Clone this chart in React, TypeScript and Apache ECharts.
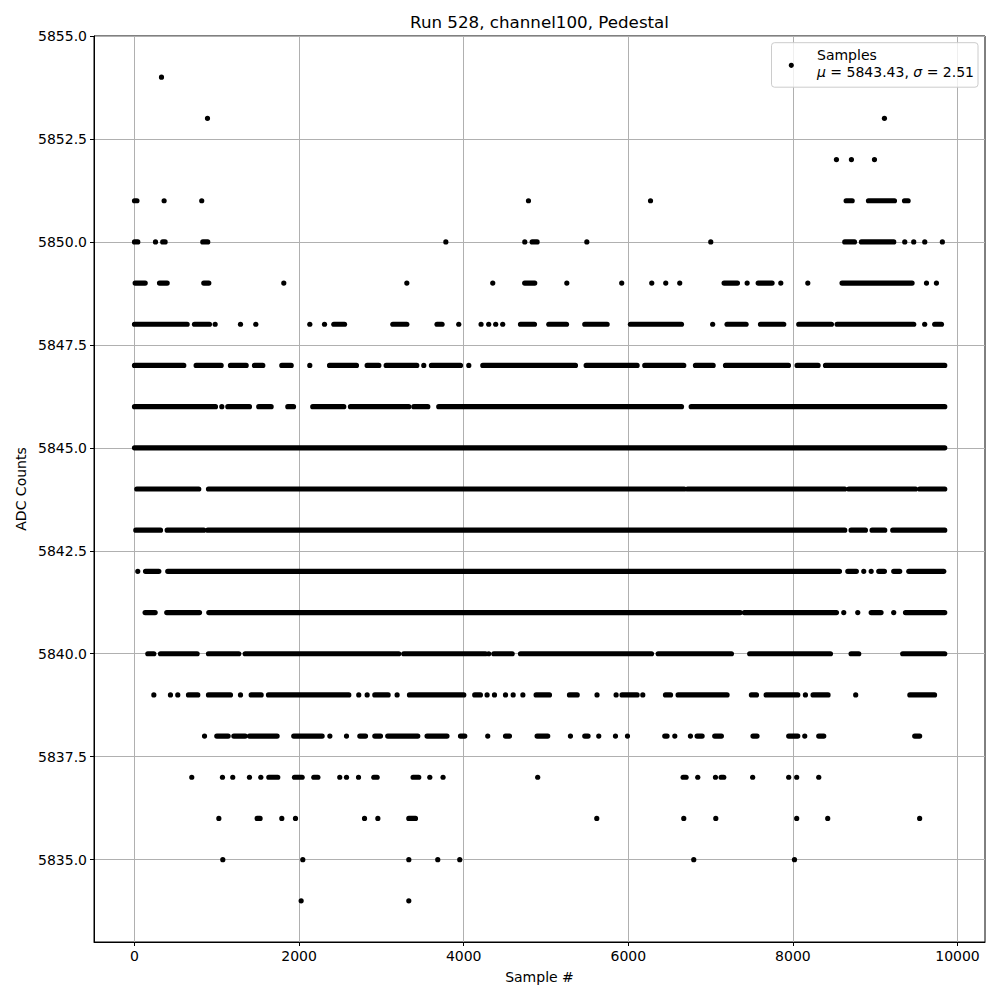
import React, { useEffect, useRef } from "react";
import * as echarts from "echarts";

// ADC levels and the sample-number runs (start, end) observed at each level.
// A single value means an isolated sample.
const L5854 = [[328]];
const L5853 = [[887], [9112]];
const L5852 = [[8529], [8711], [8991]];
const L5851 = [[0, 30], [360], [817], [4787], [6270], [8647, 8720], [8918, 9234], [9356, 9400]];
const L5850 = [[0, 40], [255], [343, 372], [830, 890], [3783], [4742], [4832, 4892], [5496], [7002], [8630, 8748], [8833, 9225], [9359], [9468], [9602], [9816]];
const L5849 = [[8, 130], [304, 397], [842, 903], [1814], [3309], [4353], [4741, 4863], [5253], [5920], [6285], [6455], [6625], [7164, 7326], [7444], [7578, 7747], [7853], [8181], [8597, 9448], [9623], [9744]];
const L5848 = [[0, 640], [729, 911], [980], [1288], [1474], [2130], [2309], [2422, 2552], [3139, 3309], [3676, 3737], [3940], [4211], [4304], [4389], [4474], [4690, 4860], [5034, 5249], [5471, 5743], [6026, 6646], [7025], [7200, 7431], [7606, 7889], [8071, 8468], [8537, 9468], [9601], [9723, 9805]];
const L5847 = [[0, 599], [749, 1053], [1166, 1357], [1458, 1559], [1790, 1904], [2130], [2370, 2697], [2827, 2969], [3058, 3430], [3515], [3608, 3961], [4062], [4232, 5358], [5488, 6107], [6200, 6674], [6816, 7031], [7181, 7946], [8051, 8306], [8396, 9845]];
const L5846 = [[0, 984], [1061], [1134, 1397], [1510, 1660], [1863, 1932], [2166, 2543], [2624, 3333], [3394, 3564], [3697, 6646], [6764, 9845]];
const L5845 = [[0, 9845]];
const L5844 = [[28, 781], [899, 6680], [6720, 8630], [8680, 9490], [9540, 9845]];
const L5843 = [[16, 316], [397, 842], [890, 8630], [8707, 8881], [8962, 9116], [9213, 9845]];
const L5842 = [[40], [134, 296], [404, 8566], [8667, 8771], [8861], [8951], [9043, 9112], [9225, 9298], [9408, 9833]];
const L5841 = [[129, 251], [392, 790], [903, 7360], [7410, 8529], [8618], [8788], [8951, 9071], [9225], [9368, 9845]];
const L5840 = [[162, 235], [316, 761], [899, 1267], [1345, 3211], [3272, 4264], [4304], [4366, 4589], [4690, 6282], [6363, 7253], [7475, 8456], [8707, 8800], [9334, 9845]];
const L5839 = [[235], [437], [526], [656, 769], [899, 1166], [1288], [1418, 1539], [1628, 2604], [2725], [2827], [2920, 3082], [3191], [3341, 4001], [4134, 4203], [4284], [4374], [4508], [4601], [4719], [4880, 5042], [5285, 5379], [5620], [5852], [5924, 6107], [6176], [6452, 6513], [6605, 7200], [7496, 7557], [7675, 8059], [8152], [8245, 8427], [8763], [9421, 9721]];
const L5838 = [[851], [1000, 1138], [1207, 1345], [1397, 1733], [1935, 2280], [2374], [2576], [2738, 2807], [2920, 2989], [3077, 3442], [3555, 3797], [3961, 4013], [4292], [4508, 4556], [4892, 5021], [5297], [5471, 5511], [5641], [5844], [5990], [6443, 6471], [6565], [6755], [6836, 6897], [7050, 7131], [7515, 7564], [7949, 8059], [8144], [8314, 8375], [9480, 9540]];
const L5837 = [[696], [1069], [1194], [1397], [1535], [1632, 1741], [1944, 2037], [2179, 2228], [2494], [2576], [2722], [2908, 2948], [3385, 3454], [3588], [3749], [4899], [6666, 6702], [6844], [7059], [7128, 7160], [7511], [7949], [8046], [8314]];
const L5836 = [[1025], [1490, 1526], [1790], [1956], [2795], [2957], [3333, 3414], [5617], [6674], [7063], [8046], [8423], [9540]];
const L5835 = [[1073], [2045], [3333], [3685], [3952], [6795], [8019]];
const L5834 = [[2025], [3333]];

const LEVELS: [number, number[][]][] = [
  [5854, L5854], [5853, L5853], [5852, L5852], [5851, L5851], [5850, L5850],
  [5849, L5849], [5848, L5848], [5847, L5847], [5846, L5846], [5845, L5845],
  [5844, L5844], [5843, L5843], [5842, L5842], [5841, L5841], [5840, L5840],
  [5839, L5839], [5838, L5838], [5837, L5837], [5836, L5836], [5835, L5835],
  [5834, L5834],
];

const X_TICKS = [0, 2000, 4000, 6000, 8000, 10000];
const Y_TICKS = [5835, 5837.5, 5840, 5842.5, 5845, 5847.5, 5850, 5852.5, 5855];

const TITLE = "Run 528, channel100, Pedestal";
const X_NAME = "Sample #";
const Y_NAME = "ADC Counts";
const LEGEND_NAME = "Samples";
const MU = "5843.43";
const SIGMA = "2.51";

const FONT = "DejaVu Sans";

export default function App() {
  const ref = useRef<HTMLDivElement>(null);
  useEffect(() => {
    if (!ref.current) return;
    const chart = echarts.init(ref.current, null, { renderer: "svg" });
    const data: number[][] = [];
    LEVELS.forEach(([v, segs]) => {
      segs.forEach((s) => {
        const a = s[0];
        const b = s.length > 1 ? s[1] : s[0];
        data.push([a, b, v]);
      });
    });
    const R = 2.6;
    const option: any = {
      animation: false,
      backgroundColor: "#fff",
      textStyle: { fontFamily: FONT },
      grid: {
        left: 94,
        right: 15,
        top: 36,
        bottom: 58,
        show: true,
        borderColor: "#000",
        borderWidth: 1,
        backgroundColor: "transparent",
      },
      xAxis: {
        type: "value",
        min: -492,
        max: 10334,
        axisLine: { show: true, onZero: false, lineStyle: { color: "#000", width: 1 } },
        axisTick: { show: true, length: 4, inside: false, lineStyle: { color: "#000" }, customValues: X_TICKS },
        axisLabel: { customValues: X_TICKS, color: "#000", fontSize: 14, fontFamily: FONT, margin: 7, formatter: (v: number) => String(v) },
        splitLine: { show: true, lineStyle: { color: "#b0b0b0", width: 1 } },
      },
      yAxis: {
        type: "value",
        min: 5833,
        max: 5855,
        axisLine: { show: true, onZero: false, lineStyle: { color: "#000", width: 1 } },
        axisTick: { show: true, length: 4, inside: false, lineStyle: { color: "#000" }, customValues: Y_TICKS },
        axisLabel: { customValues: Y_TICKS, color: "#000", fontSize: 14, fontFamily: FONT, margin: 7, formatter: (v: number) => v.toFixed(1) },
        splitLine: { show: true, lineStyle: { color: "#b0b0b0", width: 1 } },
      },
      series: [
        {
          type: "custom",
          name: LEGEND_NAME,
          encode: { x: [0, 1], y: 2 },
          data,
          renderItem: (params: any, api: any) => {
            const p0 = api.coord([api.value(0), api.value(2)]);
            const p1 = api.coord([api.value(1), api.value(2)]);
            return {
              type: "rect",
              shape: { x: p0[0] - R, y: p0[1] - R, width: p1[0] - p0[0] + 2 * R, height: 2 * R, r: R },
              style: { fill: "#000" },
            };
          },
        },
      ],
      graphic: [
        {
          type: "text",
          x: 539.5,
          y: 22,
          style: { text: TITLE, fontSize: 16.7, fontFamily: FONT, fill: "#000", textAlign: "center", textVerticalAlign: "middle" },
        },
        {
          type: "text",
          x: 539.5,
          y: 977,
          style: { text: X_NAME, fontSize: 14, fontFamily: FONT, fill: "#000", textAlign: "center", textVerticalAlign: "middle" },
        },
        {
          type: "text",
          x: 21,
          y: 489,
          rotation: Math.PI / 2,
          style: { text: Y_NAME, fontSize: 14, fontFamily: FONT, fill: "#000", textAlign: "center", textVerticalAlign: "middle" },
        },
        {
          type: "rect",
          shape: { x: 771.5, y: 42.7, width: 206.5, height: 44.5, r: 3 },
          style: { fill: "rgba(255,255,255,0.8)", stroke: "#cccccc", lineWidth: 1 },
          z: 100,
        },
        {
          type: "circle",
          shape: { cx: 791.3, cy: 65.3, r: R },
          style: { fill: "#000" },
          z: 101,
        },
        {
          type: "text",
          x: 817,
          y: 54.5,
          z: 101,
          style: { text: LEGEND_NAME, fontSize: 14, fontFamily: FONT, fill: "#000", textAlign: "left", textVerticalAlign: "middle" },
        },
        {
          type: "text",
          x: 817,
          y: 71.5,
          z: 101,
          style: {
            text: "{i|μ} = " + MU + ", {i|σ} = " + SIGMA,
            fontSize: 14,
            fontFamily: FONT,
            fill: "#000",
            textAlign: "left",
            textVerticalAlign: "middle",
            rich: { i: { fontStyle: "italic", fontSize: 14, fontFamily: FONT, fill: "#000" } },
          },
        },
      ],
    };
    chart.setOption(option);
    return () => chart.dispose();
  }, []);
  return <div ref={ref} style={{ position: "fixed", left: 0, top: 0, width: 1000, height: 1000 }} />;
}
